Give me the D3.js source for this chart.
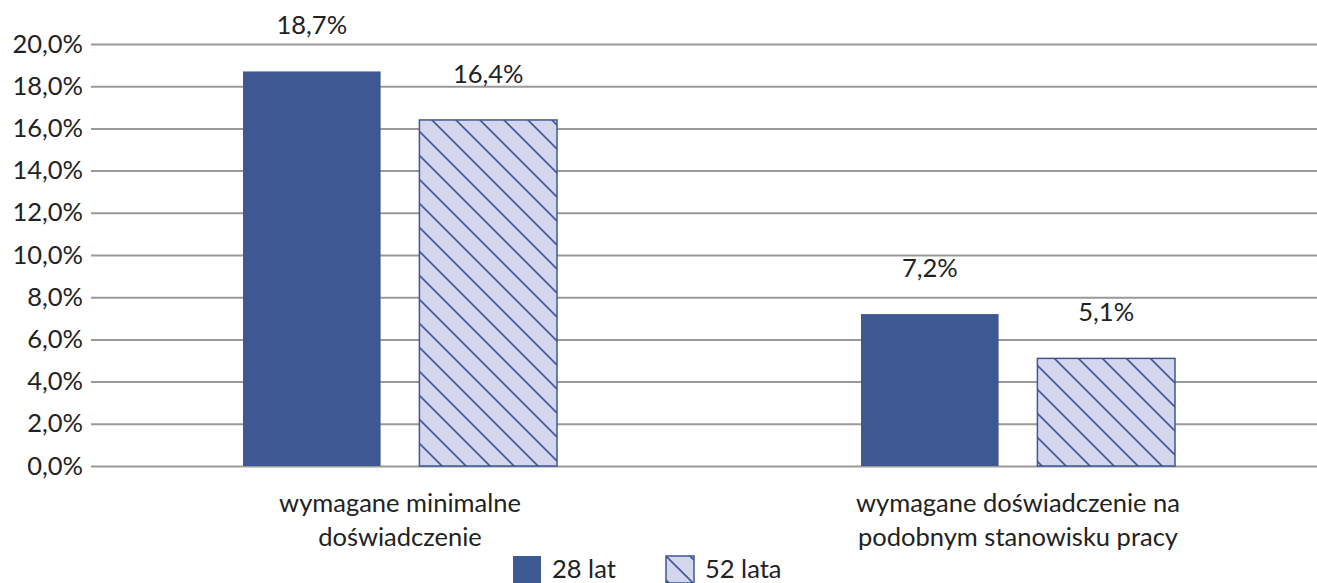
<!DOCTYPE html>
<html>
<head>
<meta charset="utf-8">
<script src="https://cdn.jsdelivr.net/npm/d3@7"></script>
<style>
  body { margin: 0; background: #fff; }
  svg text { font-family: Lato, "Open Sans", sans-serif; fill: #222; }
</style>
</head>
<body>
<svg class="chart" width="1317" height="583"></svg>
<script>
// data
var categories = [["wymagane minimalne", "doświadczenie"], ["wymagane doświadczenie na", "podobnym stanowisku pracy"]];
var seriesNames = ["28 lat", "52 lata"];
var values28 = [0.187, 0.072];
var values52 = [0.164, 0.051];
var yTicks = [0, 0.02, 0.04, 0.06, 0.08, 0.10, 0.12, 0.14, 0.16, 0.18, 0.20];

var svg = d3.select("svg.chart"),
    margin = {top: 44, left: 91},
    plotRight = 1327,
    plotBottom = 466,
    fontSize = "25.5px";

var fmt = function (v) { return (v * 100).toFixed(1).replace(".", ",") + "%"; };

var x0 = d3.scaleBand().domain([0, 1]).range([margin.left, plotRight]),
    x1 = d3.scaleBand().domain([0, 1]).range([0, 314]).paddingInner(0.22),
    y = d3.scaleLinear().domain([0, 0.2]).range([plotBottom, margin.top]);

var defs = svg.append("defs");
var pat = defs.append("pattern")
    .attr("id", "hatch")
    .attr("patternUnits", "userSpaceOnUse")
    .attr("width", 24).attr("height", 24);
pat.append("rect").attr("width", 24).attr("height", 24).attr("fill", "#d4d6ed");
pat.append("path")
    .attr("d", "M0,0L24,24M-6,18L6,30M18,-6L30,6")
    .attr("stroke", "#3d5895").attr("stroke-width", 1.6);

// grid lines
var yAxis = svg.append("g")
    .attr("transform", "translate(" + margin.left + ",0)")
    .call(d3.axisLeft(y).tickValues(yTicks).tickFormat(fmt).tickSize(-(1317 - margin.left)).tickPadding(8));
yAxis.select(".domain").remove();
yAxis.selectAll(".tick line").attr("stroke", "#999").attr("stroke-width", 2);
yAxis.selectAll(".tick text").style("font-size", fontSize).style("font-family", "Lato, sans-serif").attr("fill", "#222");

var data = [];
[values28, values52].forEach(function (vals, s) {
  vals.forEach(function (v, c) { data.push({cat: c, s: s, v: v}); });
});

var barX = function (d) { return x0(d.cat) + x0.bandwidth() / 2 - 157 + x1(d.s); };

svg.selectAll(".bar")
  .data(data)
  .enter().append("rect")
    .attr("class", "bar")
    .attr("x", barX)
    .attr("y", function (d) { return y(d.v); })
    .attr("width", x1.bandwidth())
    .attr("height", function (d) { return y(0) - y(d.v); })
    .attr("fill", function (d) { return d.s === 0 ? "#3d5893" : "url(#hatch)"; })
    .attr("stroke", function (d) { return d.s === 0 ? "none" : "#3d5895"; })
    .attr("stroke-width", 1.5);

svg.selectAll(".val")
  .data(data)
  .enter().append("text")
    .attr("class", "val")
    .attr("x", function (d) { return barX(d) + x1.bandwidth() / 2; })
    .attr("y", function (d) { return y(d.v) - 37; })
    .attr("text-anchor", "middle")
    .style("font-size", fontSize)
    .text(function (d) { return fmt(d.v); });

// category labels
var catG = svg.selectAll(".cat")
  .data(categories)
  .enter().append("text")
    .attr("class", "cat")
    .attr("text-anchor", "middle")
    .style("font-size", fontSize);
catG.selectAll("tspan")
  .data(function (d, i) { return d.map(function (t) { return {t: t, i: i}; }); })
  .enter().append("tspan")
    .attr("x", function (d) { return x0(d.i) + x0.bandwidth() / 2; })
    .attr("y", function (d, j) { return 512 + j * 34; })
    .text(function (d) { return d.t; });

// legend
var legend = svg.selectAll(".legend")
  .data(seriesNames)
  .enter().append("g")
    .attr("class", "legend")
    .attr("transform", function (d, i) { return "translate(" + (513 + i * 153) + ",556)"; });
legend.append("rect")
    .attr("width", 28).attr("height", 27)
    .attr("fill", function (d, i) { return i === 0 ? "#3d5893" : "url(#hatch)"; })
    .attr("stroke", function (d, i) { return i === 0 ? "none" : "#3d5895"; })
    .attr("stroke-width", 1.5);
legend.append("text")
    .attr("x", 39).attr("y", 22)
    .style("font-size", fontSize)
    .text(function (d) { return d; });
</script>
</body>
</html>
